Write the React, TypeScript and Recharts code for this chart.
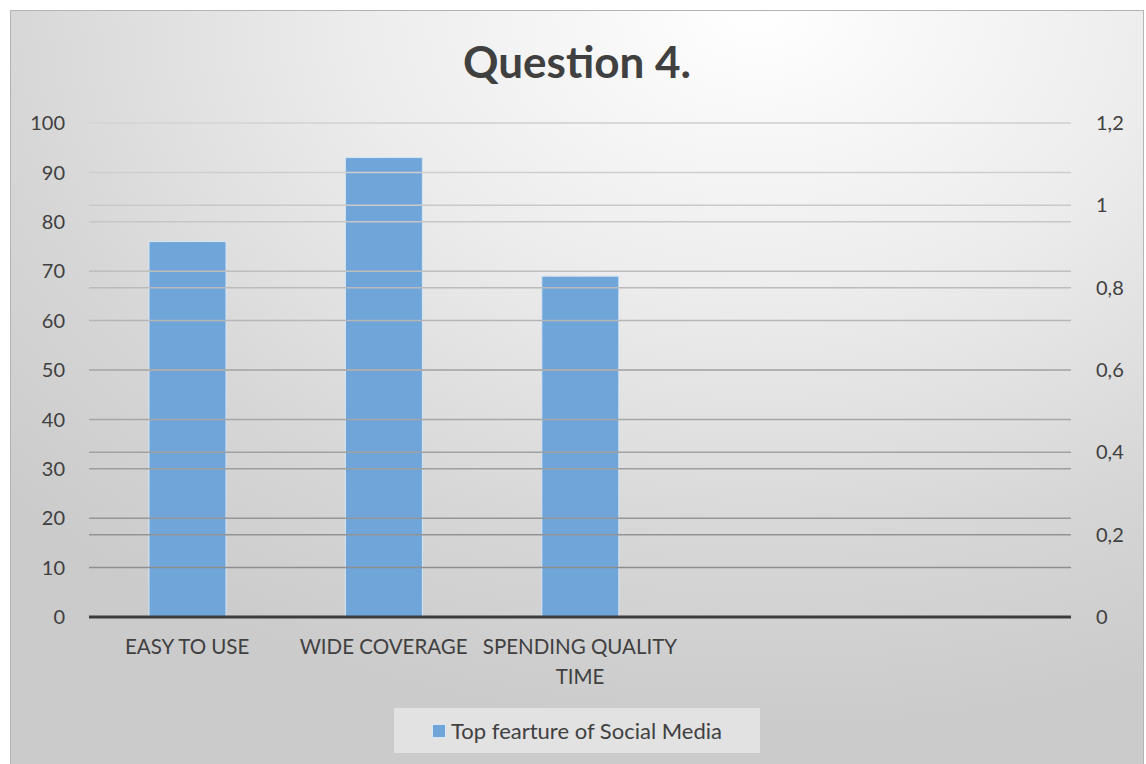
import React from "react";
import {
  ComposedChart,
  Bar,
  Line,
  XAxis,
  YAxis,
  ReferenceLine,
} from "recharts";

const categories = [
  "EASY TO USE",
  "WIDE COVERAGE",
  "SPENDING QUALITY TIME",
  "",
  "",
];
const values = [76, 93, 69, null, null];
const leftTicks = [0, 10, 20, 30, 40, 50, 60, 70, 80, 90, 100];
const rightTicks = [0, 0.2, 0.4, 0.6, 0.8, 1, 1.2];
const seriesName = "Top fearture of Social Media";
const title = "Question 4.";

const data = categories.map((name, i) => ({ name, value: values[i] }));

const FONT = "Lato, 'Open Sans', sans-serif";
const TEXT = "#404040";
const BAR = "#6fa5d9";

// gridlines get darker toward the bottom, like the original
const gridColor = (frac: number) => {
  const c = Math.round(0x86 + (0xd6 - 0x86) * frac);
  const h = c.toString(16);
  return `#${h}${h}${h}`;
};

// wrap long category names onto two lines
const splitLabel = (s: string, max = 17) => {
  if (s.length <= max) return [s];
  const cut = s.lastIndexOf(" ", max);
  return [s.slice(0, cut), s.slice(cut + 1)];
};

const CategoryTick = ({ x, y, payload }: any) => (
  <text
    x={x}
    y={y}
    textAnchor="middle"
    fill={TEXT}
    style={{ fontFamily: FONT, fontSize: 20.5 }}
  >
    {splitLabel(payload.value).map((line, i) => (
      <tspan key={i} x={x} dy={i === 0 ? "0.71em" : 30}>
        {line}
      </tspan>
    ))}
  </text>
);

export default function App() {
  return (
    <div
      style={{
        position: "absolute",
        left: 10,
        top: 10,
        width: 1132,
        height: 760,
        border: "1px solid #b4b4b4",
        background:
          "radial-gradient(ellipse 90% 95% at 66% 0%, #ffffff 0%, #ececec 40%, #d6d6d6 75%, #cbcbcb 100%)",
        fontFamily: FONT,
      }}
    >
      <div
        style={{
          position: "absolute",
          left: 0,
          width: 1132,
          top: 24,
          textAlign: "center",
          fontSize: 44,
          fontWeight: 700,
          color: TEXT,
        }}
      >
        {title}
      </div>
      <ComposedChart
        width={1132}
        height={754}
        data={data}
        margin={{ top: 112, right: 0, bottom: 68, left: 0 }}
      >
        <XAxis
          dataKey="name"
          height={80}
          tickLine={false}
          axisLine={false}
          tickSize={0}
          tickMargin={22}
          tick={<CategoryTick />}
          interval={0}
        />
        <YAxis
          yAxisId="left"
          orientation="left"
          width={78}
          domain={[0, 100]}
          ticks={leftTicks}
          tickLine={false}
          axisLine={false}
          tickSize={0}
          tickMargin={24}
          tick={{ fill: TEXT, fontSize: 20, fontFamily: FONT }}
        />
        <YAxis
          yAxisId="right"
          orientation="right"
          width={72}
          domain={[0, 1.2]}
          ticks={rightTicks}
          allowDataOverflow
          tickLine={false}
          axisLine={false}
          tickSize={0}
          tickMargin={25}
          tickFormatter={(v: number) => String(v).replace(".", ",")}
          tick={{ fill: TEXT, fontSize: 20, fontFamily: FONT }}
        />
        {leftTicks
          .filter((t) => t > 0)
          .map((t) => (
            <ReferenceLine
              key={`l${t}`}
              yAxisId="left"
              y={t}
              stroke={gridColor(t / 100)}
              strokeWidth={1.5}
            />
          ))}
        {rightTicks
          .filter((t) => t > 0)
          .map((t) => (
            <ReferenceLine
              key={`r${t}`}
              yAxisId="right"
              y={t}
              stroke={gridColor(t / 1.2)}
              strokeWidth={1.5}
            />
          ))}
        <Bar
          yAxisId="left"
          dataKey="value"
          name={seriesName}
          fill={BAR}
          stroke="#d6e6f5"
          strokeWidth={1}
          barSize={77}
          isAnimationActive={false}
        />
        {/* empty series so the secondary axis is drawn */}
        <Line
          yAxisId="right"
          dataKey="secondary"
          stroke="none"
          dot={false}
          activeDot={false}
          legendType="none"
          isAnimationActive={false}
        />
        <ReferenceLine yAxisId="left" y={0} stroke="#3c3c3c" strokeWidth={3} />
      </ComposedChart>
      <div
        style={{
          position: "absolute",
          left: 383,
          top: 697,
          width: 366,
          height: 45,
          background: "#e2e2e2",
          display: "flex",
          alignItems: "center",
          justifyContent: "center",
          fontSize: 22,
          color: TEXT,
        }}
      >
        <span
          style={{
            width: 12,
            height: 12,
            background: BAR,
            border: "1px solid #d6e6f5",
            marginRight: 5,
            display: "inline-block",
          }}
        />
        {seriesName}
      </div>
    </div>
  );
}
